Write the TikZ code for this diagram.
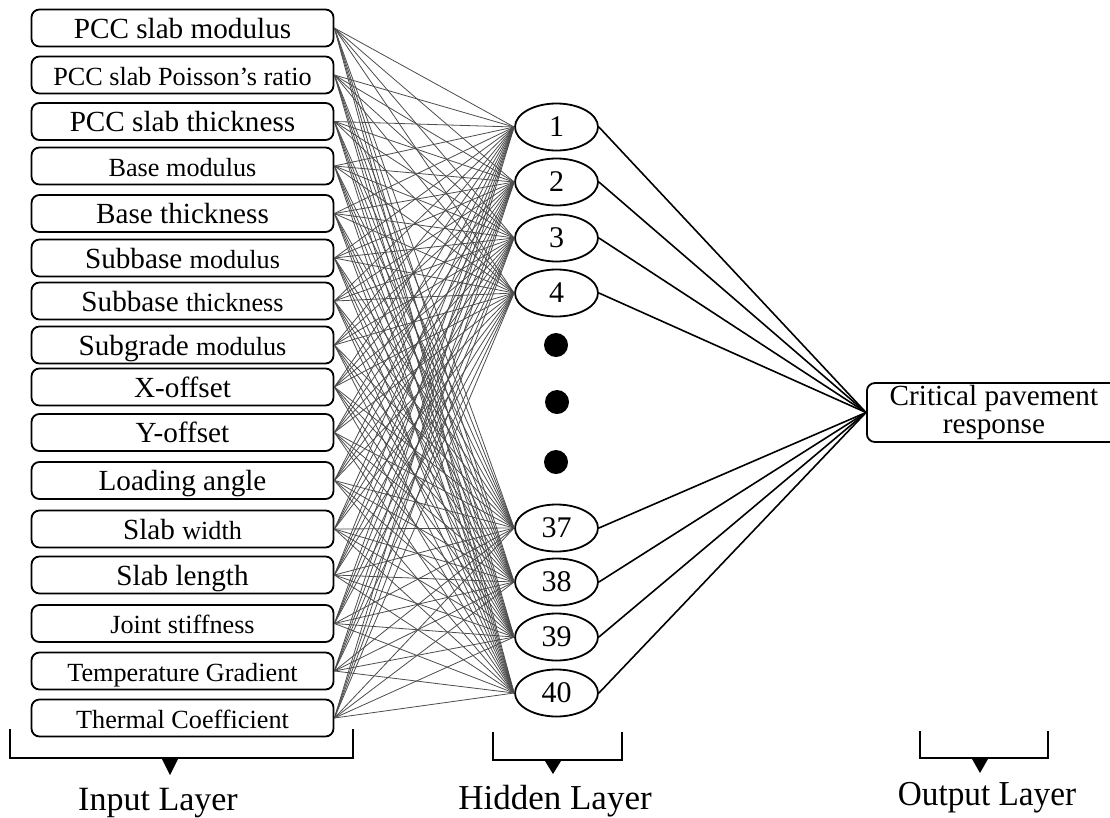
\documentclass[tikz,border=0pt]{standalone}
\usepackage{fontspec}
\setmainfont{Liberation Serif}
\newfontfamily\narrowserif[FakeStretch=0.95]{Liberation Serif}
\usetikzlibrary{shapes.geometric}
% two label sizes used inside the input boxes
\newcommand\Lsz{\fontsize{29.2}{32}\selectfont}
\newcommand\Ssz{\fontsize{26.2}{30}\selectfont}
\begin{document}
\begin{tikzpicture}[x=1pt,y=-1pt,
  inbox/.style={draw, line width=1.8pt, rounded corners=8pt,
    minimum width=302pt, minimum height=37pt, inner sep=0pt,
    text height=25pt, text depth=5pt},
  hid/.style={draw, ellipse, line width=1.8pt, minimum width=83pt,
    minimum height=47pt, inner sep=0pt, font=\fontsize{30}{32}\selectfont},
  outbox/.style={draw, line width=1.8pt, rounded corners=8pt,
    minimum width=254pt, minimum height=59pt, inner sep=0pt, align=center,
    font=\fontsize{29.2}{28}\selectfont},
  inlink/.style={draw=black!70, line width=0.8pt},
  outlink/.style={draw=black, line width=1.6pt},
  brk/.style={draw=black, line width=2.6pt},
  layerlab/.style={anchor=base, inner sep=0pt}]

\useasboundingbox (0,0) rectangle (1110,817);

% input layer
\foreach \i/\y/\t in {
  1/28/{\Lsz PCC slab modulus},
  2/75/{\Ssz PCC slab Poisson’s ratio},
  3/121.5/{\Lsz PCC slab thickness},
  4/166/{\Ssz Base modulus},
  5/213.5/{\Lsz Base thickness},
  6/258/{\Lsz Subbase \Ssz modulus},
  7/301/{\Lsz Subbase \Ssz thickness},
  8/345/{\Lsz Subgrade \Ssz modulus},
  9/387/{\Lsz X-offset},
  10/432.5/{\Lsz Y-offset},
  11/480.5/{\Lsz Loading angle},
  12/529/{\Lsz Slab \Ssz width},
  13/575/{\Lsz Slab length},
  14/623.5/{\Ssz Joint stiffness},
  15/671/{\Ssz Temperature Gradient},
  16/718/{\Ssz Thermal Coefficient}}
  \node[inbox] (in\i) at (182.5,\y) {\t};

% hidden layer
\foreach \k/\y in {1/127, 2/182, 3/238, 4/293, 37/528, 38/582, 39/637, 40/693}
  \node[hid] (h\k) at (556.5,\y) {\k};

\fill (556,345) circle (12);
\fill (557,402) circle (12);
\fill (556,462) circle (12);

% output layer
\node[outbox, anchor=west] (out) at (866,412.5) {Critical pavement\\response};

% connections
\foreach \i in {1,...,16}
  \foreach \k in {1,2,3,4,37,38,39,40}
    \path[inlink] (in\i.east) -- (h\k.west);
\foreach \k in {1,2,3,4,37,38,39,40}
  \path[outlink] (h\k.east) -- (out.west);

% layer brackets
\path[brk] (10,729) -- (10,758) -- (353,758) -- (353,729);
\fill (162,759) -- (178,759) -- (170,775) -- cycle;
\path[brk] (493,732) -- (493,760) -- (622,760) -- (622,732);
\fill (545,761) -- (561,761) -- (553,774) -- cycle;
\path[brk] (920,731) -- (920,758) -- (1048,758) -- (1048,731);
\fill (972,759) -- (988,759) -- (980,773) -- cycle;

\node[layerlab, font=\fontsize{34}{36}\selectfont] (labin) at (158,810) {Input Layer};
\node[layerlab, font=\fontsize{35}{37}\selectfont] (labhid) at (555,809) {Hidden Layer};
\node[layerlab, font=\narrowserif\fontsize{35}{37}\selectfont] (labout) at (987,805) {Output Layer};
\end{tikzpicture}
\end{document}
